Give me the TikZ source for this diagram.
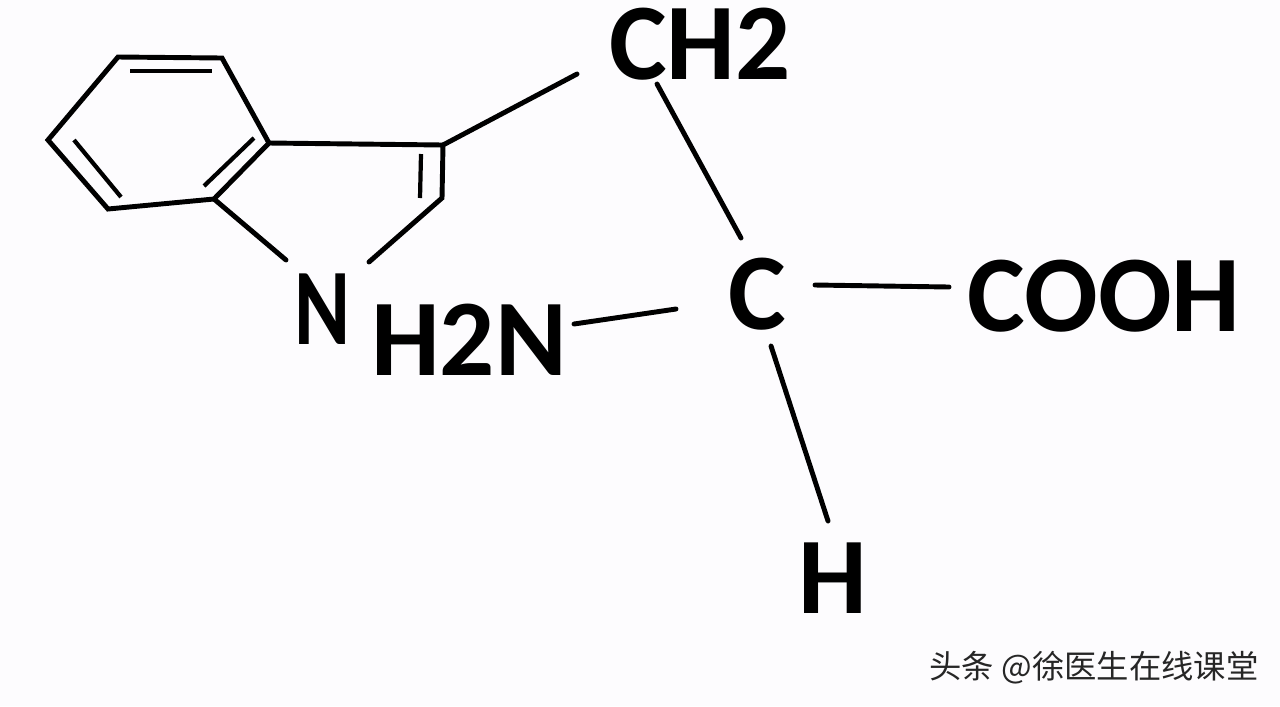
\documentclass[tikz,border=0pt]{standalone}
\usepackage{fontspec}
\setmainfont{Carlito}
\newfontfamily\cjk{Noto Sans CJK SC}
\definecolor{paper}{HTML}{FDFCFE}
\begin{document}
\begin{tikzpicture}[bond/.style={line width=1.4pt,line cap=round,line join=miter},
	thin bond/.style={line width=1.2pt},
	atom/.style={font=\fontsize{31}{31}\selectfont\bfseries,inner sep=0pt}]
		\fill [paper] (0,0) rectangle (12.8,7.06); %background
		\coordinate (r1) at (1.18,6.49); %benzene ring
		\coordinate (r2) at (2.22,6.48);
		\coordinate (r3) at (2.69,5.63);
		\coordinate (r4) at (2.14,5.07);
		\coordinate (r5) at (1.08,4.97);
		\coordinate (r6) at (0.48,5.66);
		\coordinate (p1) at (4.43,5.61); %five ring
		\coordinate (p2) at (4.42,5.08);
		\coordinate (n1) at (2.86,4.46); %ends at the N
		\coordinate (n2) at (3.69,4.44);
		\draw [bond] (r1) -- (r2) -- (r3) -- (r4) -- (r5) -- (r6) -- cycle; %big ring
		\draw [bond] (r3) -- (p1) -- (p2) -- (n2); %five ring
		\draw [bond] (r4) -- (n1);
		\coordinate (i1) at (1.30,6.35); %inner double lines
		\coordinate (i2) at (2.12,6.35);
		\coordinate (i3) at (0.74,5.66);
		\coordinate (i4) at (1.21,5.09);
		\coordinate (i5) at (2.54,5.68);
		\coordinate (i6) at (2.04,5.20);
		\coordinate (i7) at (4.21,5.52);
		\coordinate (i8) at (4.20,5.08);
		\draw [thin bond] (i1) -- (i2);
		\draw [thin bond] (i3) -- (i4);
		\draw [thin bond] (i5) -- (i6);
		\draw [thin bond] (i7) -- (i8);
		\node [atom] (ch2) at (7.00,6.62) {CH2};
		\node [atom] (c) at (7.57,4.12) {C};
		\node [atom] (cooh) at (11.04,4.10) {COOH};
		\node [atom] (h2n) at (4.69,3.66) {H2N};
		\node [atom] (h) at (8.33,1.28) {H};
		\node [atom] (n) at (3.225,3.97) {\scalebox{0.78}[1]{N}}; %this one is narrow
		\coordinate (e1) at (5.77,6.32); %free bond ends
		\coordinate (e2) at (6.57,6.22);
		\coordinate (e3) at (7.41,4.68);
		\coordinate (e4) at (8.15,4.21);
		\coordinate (e5) at (9.49,4.19);
		\coordinate (e6) at (5.74,3.82);
		\coordinate (e7) at (6.76,3.97);
		\coordinate (e8) at (7.71,3.60);
		\coordinate (e9) at (8.28,1.85);
		\draw [bond] (p1) -- (e1); %to the CH2
		\draw [bond] (e2) -- (e3);
		\draw [bond] (e4) -- (e5);
		\draw [bond] (e6) -- (e7);
		\draw [bond] (e8) -- (e9);
		\node [font=\fontsize{9.2}{9.2}\selectfont\cjk,text=black!85,inner sep=0pt] (mark) at (10.94,0.38) {头条 @徐医生在线课堂}; %watermark
\end{tikzpicture}
\end{document}
